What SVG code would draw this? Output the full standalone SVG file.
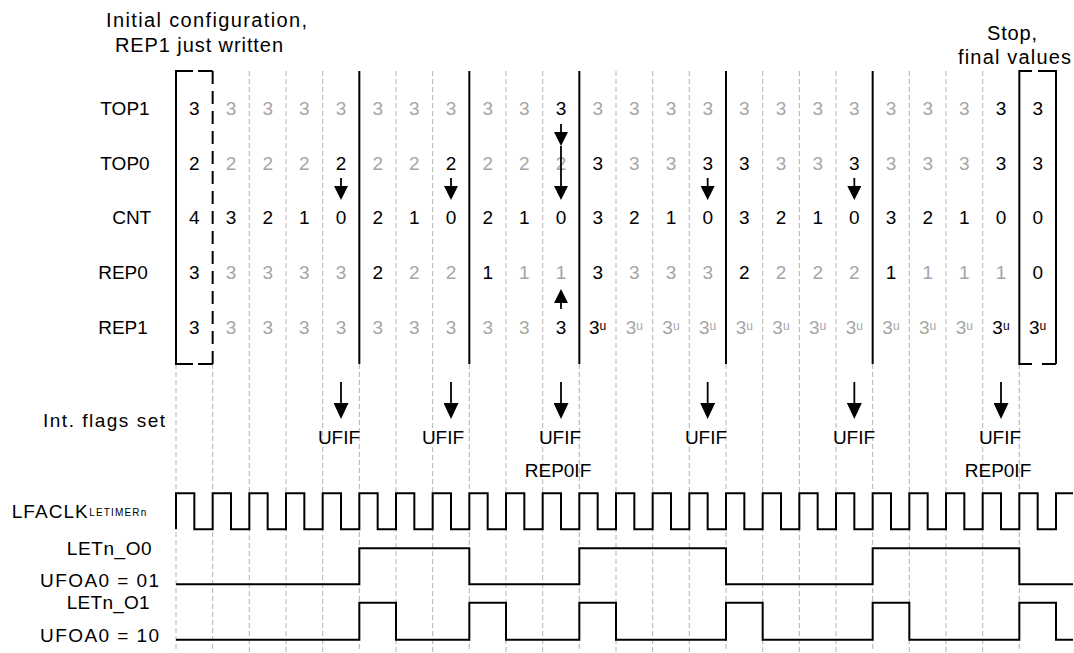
<svg xmlns="http://www.w3.org/2000/svg" width="1074" height="653" viewBox="0 0 1074 653">
<style>
.t{font-family:"Liberation Sans",Arial,sans-serif;font-size:19px;fill:#000}
.f20{font-size:20px}
.s11{font-size:10px}
.m{text-anchor:middle}
.g{fill:#a6a6a6}
.grid{stroke:#b3b3b3;stroke-width:1;stroke-dasharray:5 3;fill:none}
.sl{stroke:#000;stroke-width:2;fill:none}
.bd{stroke:#000;stroke-width:2;fill:none;stroke-dasharray:13 7}
.wave{stroke:#000;stroke-width:2;fill:none}
.ar{stroke:#000;stroke-width:1.8;fill:none;marker-end:url(#ah)}
.ar2{stroke:#000;stroke-width:1.8;fill:none;marker-end:url(#ah2)}
.u{font-size:12px}
</style>
<defs>
<marker id="ah" viewBox="0 0 14 14" refX="4" refY="7" markerWidth="14" markerHeight="14" markerUnits="userSpaceOnUse" orient="auto"><path d="M0,0 L14,7 L0,14 z" fill="#000"/></marker>
<marker id="ah2" viewBox="0 0 16 15" refX="4" refY="7.5" markerWidth="16" markerHeight="15" markerUnits="userSpaceOnUse" orient="auto"><path d="M0,0 L16,7.5 L0,15 z" fill="#000"/></marker>
</defs>
<rect width="1074" height="653" fill="#fff"/>

<g id="grid">
<path class="grid" d="M176,364V652 M212.67,364V652 M249.33,71V652 M286,71V652 M322.67,71V652 M359.33,364V652 M396,71V652 M432.67,71V652 M469.33,364V652 M506,71V652 M542.67,71V652 M579.33,364V652 M616,71V652 M652.67,71V652 M689.33,71V652 M726,364V652 M762.67,71V652 M799.33,71V652 M836,71V652 M872.67,364V652 M909.33,71V652 M946,71V652 M982.67,71V652 M1019.33,364V652"/>
</g>

<g id="brackets">
<path class="sl" d="M193,71H176V364H193"/>
<path class="sl" d="M198,71H212.67 M198,364H212.67"/>
<path class="bd" d="M212.67,71V364"/>
<path class="sl" d="M1032,71H1019.33V364H1032"/>
<path class="sl" d="M1038,71H1056 M1042,364H1056"/>
<path class="sl" d="M1056,70V364"/>
<path class="sl" d="M359.33,71V364 M469.33,71V364 M579.33,71V364 M726,71V364 M872.67,71V364"/>
</g>

<g id="header-left">
<text class="t f20" x="106" y="27" textLength="201" lengthAdjust="spacing">Initial configuration,</text>
<text class="t f20" x="115" y="52" textLength="168" lengthAdjust="spacing">REP1 just written</text>
</g>
<g id="header-right">
<text class="t f20" x="987" y="40" textLength="50" lengthAdjust="spacing">Stop,</text>
<text class="t f20" x="958" y="64" textLength="113" lengthAdjust="spacing">final values</text>
</g>

<g id="row-TOP1" class="t m">
<text x="125" y="114.8">TOP1</text>
<text x="194.33" y="114.8">3</text>
<text class="g" x="231" y="114.8">3</text><text class="g" x="267.67" y="114.8">3</text><text class="g" x="304.33" y="114.8">3</text><text class="g" x="341" y="114.8">3</text>
<text class="g" x="377.67" y="114.8">3</text><text class="g" x="414.33" y="114.8">3</text><text class="g" x="451" y="114.8">3</text>
<text class="g" x="487.67" y="114.8">3</text><text class="g" x="524.33" y="114.8">3</text><text x="561" y="114.8">3</text>
<text class="g" x="597.67" y="114.8">3</text><text class="g" x="634.33" y="114.8">3</text><text class="g" x="671" y="114.8">3</text><text class="g" x="707.67" y="114.8">3</text>
<text class="g" x="744.33" y="114.8">3</text><text class="g" x="781" y="114.8">3</text><text class="g" x="817.67" y="114.8">3</text><text class="g" x="854.33" y="114.8">3</text>
<text class="g" x="891" y="114.8">3</text><text class="g" x="927.67" y="114.8">3</text><text class="g" x="964.33" y="114.8">3</text><text x="1001" y="114.8">3</text>
<text x="1037.67" y="114.8">3</text>
</g>

<g id="row-TOP0" class="t m">
<text x="125" y="169.6">TOP0</text>
<text x="194.33" y="169.6">2</text>
<text class="g" x="231" y="169.6">2</text><text class="g" x="267.67" y="169.6">2</text><text class="g" x="304.33" y="169.6">2</text><text x="341" y="169.6">2</text>
<text class="g" x="377.67" y="169.6">2</text><text class="g" x="414.33" y="169.6">2</text><text x="451" y="169.6">2</text>
<text class="g" x="487.67" y="169.6">2</text><text class="g" x="524.33" y="169.6">2</text><text class="g" x="561" y="169.6">2</text>
<text x="597.67" y="169.6">3</text><text class="g" x="634.33" y="169.6">3</text><text class="g" x="671" y="169.6">3</text><text x="707.67" y="169.6">3</text>
<text x="744.33" y="169.6">3</text><text class="g" x="781" y="169.6">3</text><text class="g" x="817.67" y="169.6">3</text><text x="854.33" y="169.6">3</text>
<text class="g" x="891" y="169.6">3</text><text class="g" x="927.67" y="169.6">3</text><text class="g" x="964.33" y="169.6">3</text><text x="1001" y="169.6">3</text>
<text x="1037.67" y="169.6">3</text>
</g>

<g id="row-CNT" class="t m">
<text x="131.7" y="224.4">CNT</text>
<text x="194.33" y="224.4">4</text>
<text x="231" y="224.4">3</text><text x="267.67" y="224.4">2</text><text x="304.33" y="224.4">1</text><text x="341" y="224.4">0</text>
<text x="377.67" y="224.4">2</text><text x="414.33" y="224.4">1</text><text x="451" y="224.4">0</text>
<text x="487.67" y="224.4">2</text><text x="524.33" y="224.4">1</text><text x="561" y="224.4">0</text>
<text x="597.67" y="224.4">3</text><text x="634.33" y="224.4">2</text><text x="671" y="224.4">1</text><text x="707.67" y="224.4">0</text>
<text x="744.33" y="224.4">3</text><text x="781" y="224.4">2</text><text x="817.67" y="224.4">1</text><text x="854.33" y="224.4">0</text>
<text x="891" y="224.4">3</text><text x="927.67" y="224.4">2</text><text x="964.33" y="224.4">1</text><text x="1001" y="224.4">0</text>
<text x="1037.67" y="224.4">0</text>
</g>

<g id="row-REP0" class="t m">
<text x="123" y="279.2">REP0</text>
<text x="194.33" y="279.2">3</text>
<text class="g" x="231" y="279.2">3</text><text class="g" x="267.67" y="279.2">3</text><text class="g" x="304.33" y="279.2">3</text><text class="g" x="341" y="279.2">3</text>
<text x="377.67" y="279.2">2</text><text class="g" x="414.33" y="279.2">2</text><text class="g" x="451" y="279.2">2</text>
<text x="487.67" y="279.2">1</text><text class="g" x="524.33" y="279.2">1</text><text class="g" x="561" y="279.2">1</text>
<text x="597.67" y="279.2">3</text><text class="g" x="634.33" y="279.2">3</text><text class="g" x="671" y="279.2">3</text><text class="g" x="707.67" y="279.2">3</text>
<text x="744.33" y="279.2">2</text><text class="g" x="781" y="279.2">2</text><text class="g" x="817.67" y="279.2">2</text><text class="g" x="854.33" y="279.2">2</text>
<text x="891" y="279.2">1</text><text class="g" x="927.67" y="279.2">1</text><text class="g" x="964.33" y="279.2">1</text><text class="g" x="1001" y="279.2">1</text>
<text x="1037.67" y="279.2">0</text>
</g>

<g id="row-REP1" class="t m">
<text x="123" y="334">REP1</text>
<text x="194.33" y="334">3</text>
<text class="g" x="231" y="334">3</text><text class="g" x="267.67" y="334">3</text><text class="g" x="304.33" y="334">3</text><text class="g" x="341" y="334">3</text>
<text class="g" x="377.67" y="334">3</text><text class="g" x="414.33" y="334">3</text><text class="g" x="451" y="334">3</text>
<text class="g" x="487.67" y="334">3</text><text class="g" x="524.33" y="334">3</text><text x="561" y="334">3</text>
<text x="597.67" y="334">3<tspan class="u" dy="-4">u</tspan></text>
<text class="g" x="634.33" y="334">3<tspan class="u" dy="-4">u</tspan></text>
<text class="g" x="671" y="334">3<tspan class="u" dy="-4">u</tspan></text>
<text class="g" x="707.67" y="334">3<tspan class="u" dy="-4">u</tspan></text>
<text class="g" x="744.33" y="334">3<tspan class="u" dy="-4">u</tspan></text>
<text class="g" x="781" y="334">3<tspan class="u" dy="-4">u</tspan></text>
<text class="g" x="817.67" y="334">3<tspan class="u" dy="-4">u</tspan></text>
<text class="g" x="854.33" y="334">3<tspan class="u" dy="-4">u</tspan></text>
<text class="g" x="891" y="334">3<tspan class="u" dy="-4">u</tspan></text>
<text class="g" x="927.67" y="334">3<tspan class="u" dy="-4">u</tspan></text>
<text class="g" x="964.33" y="334">3<tspan class="u" dy="-4">u</tspan></text>
<text x="1001" y="334">3<tspan class="u" dy="-4">u</tspan></text>
<text x="1037.67" y="334">3<tspan class="u" dy="-4">u</tspan></text>
</g>

<g id="flags">
<text class="t" x="43" y="427" textLength="122" lengthAdjust="spacing">Int. flags set</text>
<text class="t m" x="339" y="444">UFIF</text>
<text class="t m" x="443" y="444">UFIF</text>
<text class="t m" x="560" y="444">UFIF</text>
<text class="t m" x="706" y="444">UFIF</text>
<text class="t m" x="854" y="444">UFIF</text>
<text class="t m" x="1000" y="444">UFIF</text>
<text class="t m" x="558" y="477">REP0IF</text>
<text class="t m" x="998" y="477">REP0IF</text>
</g>

<g id="connectors">
<path class="ar" d="M341,178V190"/>
<path class="ar" d="M451,178V190"/>
<path class="ar" d="M707.67,178V190"/>
<path class="ar" d="M854.33,178V190"/>
<path class="ar" d="M561,124V136"/>
<path class="ar" d="M561,146V190"/>
<path class="ar" d="M561,309V299"/>
<path class="ar2" d="M341,382V407"/>
<path class="ar2" d="M451,382V407"/>
<path class="ar2" d="M561,382V407"/>
<path class="ar2" d="M707.67,382V407"/>
<path class="ar2" d="M854.33,382V407"/>
<path class="ar2" d="M1001,382V407"/>
</g>

<g id="signal-LFACLK">
<text class="t" x="11.7" y="518" textLength="76" lengthAdjust="spacing">LFACLK</text>
<text class="t s11" x="89.3" y="515.5" textLength="57" lengthAdjust="spacing">LETIMERn</text>
<path class="wave" d="M176,529.3 V493.3 H194.33 V529.3 H212.67 V493.3 H231 V529.3 H249.33 V493.3 H267.67 V529.3 H286 V493.3 H304.33 V529.3 H322.67 V493.3 H341 V529.3 H359.33 V493.3 H377.67 V529.3 H396 V493.3 H414.33 V529.3 H432.67 V493.3 H451 V529.3 H469.33 V493.3 H487.67 V529.3 H506 V493.3 H524.33 V529.3 H542.67 V493.3 H561 V529.3 H579.33 V493.3 H597.67 V529.3 H616 V493.3 H634.33 V529.3 H652.67 V493.3 H671 V529.3 H689.33 V493.3 H707.67 V529.3 H726 V493.3 H744.33 V529.3 H762.67 V493.3 H781 V529.3 H799.33 V493.3 H817.67 V529.3 H836 V493.3 H854.33 V529.3 H872.67 V493.3 H891 V529.3 H909.33 V493.3 H927.67 V529.3 H946 V493.3 H964.33 V529.3 H982.67 V493.3 H1001 V529.3 H1019.33 V493.3 H1037.67 V529.3 H1056 V493.3 H1073"/>
</g>

<g id="signal-O0">
<text class="t" x="66.7" y="555" textLength="85" lengthAdjust="spacing">LETn_O0</text>
<text class="t" x="40" y="586.7" textLength="119" lengthAdjust="spacing">UFOA0 = 01</text>
<path class="wave" d="M176,584.3 H359.33 V548.3 H469.33 V584.3 H579.33 V548.3 H726 V584.3 H872.67 V548.3 H1019.33 V584.3 H1073"/>
</g>

<g id="signal-O1">
<text class="t" x="66.7" y="609" textLength="83" lengthAdjust="spacing">LETn_O1</text>
<text class="t" x="40" y="641.5" textLength="119" lengthAdjust="spacing">UFOA0 = 10</text>
<path class="wave" d="M176,639.7 H359.33 V602.7 H396 V639.7 H469.33 V602.7 H506 V639.7 H579.33 V602.7 H616 V639.7 H726 V602.7 H762.67 V639.7 H872.67 V602.7 H909.33 V639.7 H1019.33 V602.7 H1056 V639.7 H1073"/>
</g>
</svg>
